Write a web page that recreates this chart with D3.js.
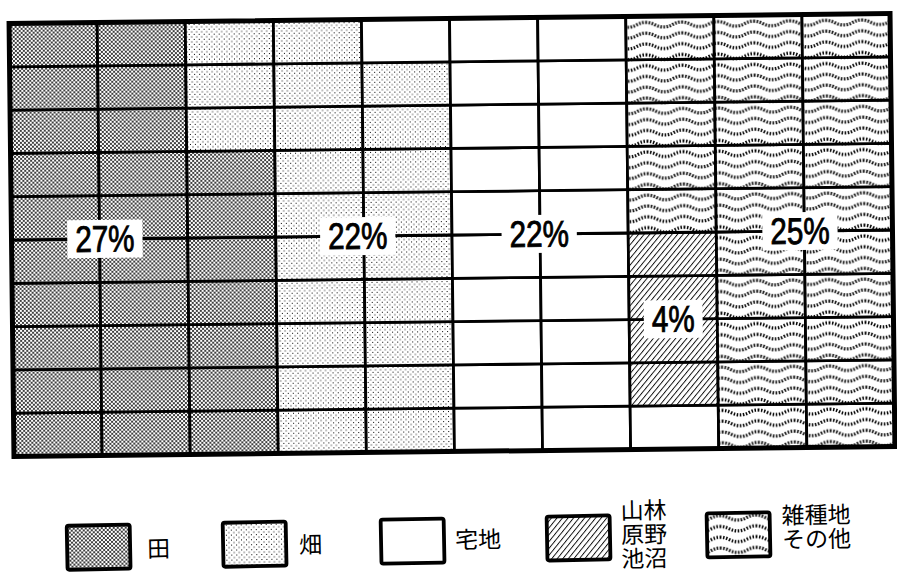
<!DOCTYPE html>
<html><head><meta charset="utf-8">
<script src="https://cdn.jsdelivr.net/npm/d3@7/dist/d3.min.js"></script>
<style>html,body{margin:0;padding:0;background:#fff;}svg{display:block;}</style>
</head><body>
<svg id="chart" width="897" height="578"></svg>
<script>
// ---- data ----
const categories = ["田", "畑", "宅地", "山林原野池沼", "雑種地その他"];
const values = [27, 22, 22, 4, 25];
const valueLabels = ["27%", "22%", "22%", "4%", "25%"];
const legendLabels = [["田"], ["畑"], ["宅地"], ["山林", "原野", "池沼"], ["雑種地", "その他"]];

// ---- layout (grid units) ----
const labelPos = [[1.06, 5], [3.93, 5], [5.99, 5], [7.5, 7], [8.95, 5]];
const patternIds = ["pTa", "pHata", "pTaku", "pSan", "pZatsu"];

const svg = d3.select("#chart");
const defs = svg.append("defs");

// 田: dense dot halftone
let p = defs.append("pattern").attr("id", "pTa").attr("patternUnits", "userSpaceOnUse")
  .attr("width", 4).attr("height", 4);
p.append("rect").attr("width", 4).attr("height", 4).attr("fill", "#fff");
[[0,0],[4,0],[0,4],[4,4],[2,2]].forEach(([cx,cy]) =>
  p.append("circle").attr("cx", cx).attr("cy", cy).attr("r", 1.02).attr("fill", "#000"));
// 畑: light dots
p = defs.append("pattern").attr("id", "pHata").attr("patternUnits", "userSpaceOnUse")
  .attr("width", 5).attr("height", 5);
p.append("rect").attr("width", 5).attr("height", 5).attr("fill", "#fff");
[[1,1],[3.5,3.5]].forEach(([cx,cy]) =>
  p.append("rect").attr("x", cx).attr("y", cy).attr("width", 1).attr("height", 1).attr("fill", "#000"));
// 宅地: white
p = defs.append("pattern").attr("id", "pTaku").attr("patternUnits", "userSpaceOnUse")
  .attr("width", 4).attr("height", 4);
p.append("rect").attr("width", 4).attr("height", 4).attr("fill", "#fff");
// 山林: diagonal hatch
p = defs.append("pattern").attr("id", "pSan").attr("patternUnits", "userSpaceOnUse")
  .attr("width", 4.3).attr("height", 4.3).attr("patternTransform", "rotate(40)");
p.append("rect").attr("width", 4.3).attr("height", 4.3).attr("fill", "#fff");
p.append("line").attr("x1", 0.5).attr("y1", 0).attr("x2", 0.5).attr("y2", 4.3)
  .attr("stroke", "#000").attr("stroke-width", 0.9);
// 雑種地: wavy dotted lines
p = defs.append("pattern").attr("id", "pZatsu").attr("patternUnits", "userSpaceOnUse")
  .attr("width", 36).attr("height", 10.8);
p.append("rect").attr("width", 36).attr("height", 10.8).attr("fill", "#fff");
p.append("path").attr("d", "M-9,5.4 Q0,0.6 9,5.4 T27,5.4 T45,5.4")
  .attr("fill", "none").attr("stroke", "#000").attr("stroke-width", 3.2)
  .attr("stroke-dasharray", "1.5 1.6");

// ---- grid ----
const x = d3.scaleLinear().domain([0, 10]).range([11.5, 892.5]);
const y = d3.scaleLinear().domain([0, 10]).range([18.5, 451.5]);

const cum = d3.cumsum(values);
const cells = d3.range(100).map(i => {
  const cat = cum.findIndex(c => i < c);
  return { i, col: Math.floor(i / 10), row: 9 - (i % 10), cat };
});

const g = svg.append("g").attr("transform", "rotate(-0.65,452,235)");

g.selectAll("rect.cell").data(cells).join("rect").attr("class", "cell")
  .attr("x", d => x(d.col)).attr("y", d => y(d.row))
  .attr("width", x(1) - x(0)).attr("height", y(1) - y(0))
  .attr("fill", d => `url(#${patternIds[d.cat]})`)
  .attr("stroke", "#000").attr("stroke-width", 2.8);

g.append("rect").attr("x", x(0)).attr("y", y(0))
  .attr("width", x(10) - x(0)).attr("height", y(10) - y(0))
  .attr("fill", "none").attr("stroke", "#000").attr("stroke-width", 5);

// ---- value labels ----
const sx = 0.8;
const lab = g.selectAll("g.lab").data(valueLabels).join("g").attr("class", "lab")
  .attr("transform", (d, i) => `translate(${x(labelPos[i][0])},${y(labelPos[i][1])})`);
lab.append("rect").attr("fill", "#fff");
lab.append("text").text(d => d)
  .attr("transform", `scale(${sx},1)`)
  .attr("text-anchor", "middle").attr("dominant-baseline", "central")
  .attr("font-family", "'Liberation Sans',Arial,sans-serif")
  .attr("font-size", 37).attr("fill", "#000")
  .attr("stroke", "#000").attr("stroke-width", 0.9);
lab.each(function() {
  const t = d3.select(this).select("text").node().getBBox();
  const w = t.width * sx;
  d3.select(this).select("rect")
    .attr("x", -w / 2 - 8).attr("y", -19).attr("width", w + 16).attr("height", 38);
});

// ---- legend ----
const leg = svg.append("g").attr("transform", "rotate(-1.1,420,538)");
const legX = [67, 223, 381, 547, 707];
const legTextX = [147, 299, 455, 621, 782];
const legTextY = [[542], [541], [539], [513, 537, 561], [521, 545]];
const li = leg.selectAll("g.li").data(categories).join("g").attr("class", "li");
li.append("rect")
  .attr("x", (d, i) => legX[i]).attr("y", 519)
  .attr("width", 63).attr("height", 44).attr("rx", 2)
  .attr("fill", (d, i) => `url(#${patternIds[i]})`)
  .attr("stroke", "#000").attr("stroke-width", 3.8);
li.each(function(d, i) {
  const t = d3.select(this).append("text")
    .attr("font-family", "'Noto Sans CJK JP',sans-serif").attr("font-size", 23)
    .attr("fill", "#000").attr("dominant-baseline", "central");
  legendLabels[i].forEach((s, k) =>
    t.append("tspan").attr("x", legTextX[i]).attr("y", legTextY[i][k]).text(s));
});
</script>
</body></html>
